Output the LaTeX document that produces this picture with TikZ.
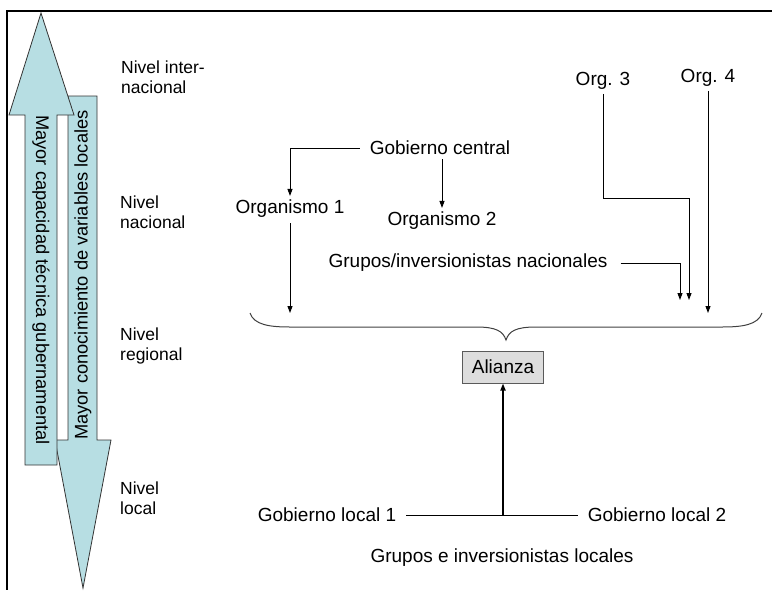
\documentclass[tikz,border=0pt]{standalone}
\usepackage{fontspec}
\setmainfont{Liberation Sans}
\usepackage{tikz}
\usetikzlibrary{arrows.meta,positioning,calc}
\usepackage{xcolor}
\definecolor{axisfill}{RGB}{183,222,227}
\definecolor{boxfill}{RGB}{221,221,221}
\definecolor{boxdraw}{RGB}{90,90,90}
\tikzset{
    actor/.style={inner sep=1pt, font=\fontsize{19}{22}\selectfont},
    lvl/.style={align=left, anchor=west, inner sep=0pt, font=\fontsize{17.5}{19.5}\selectfont},
    axis/.style={draw=black!80, fill=axisfill, line width=0.8pt},
    axislabel/.style={inner sep=0pt, font=\fontsize{18.3}{20}\selectfont},
    link/.style={line width=0.9pt, -{Triangle[length=7pt,width=5pt]}},
    plain/.style={line width=0.9pt},
    brace/.style={line width=1pt, black!75},
    alliance/.style={draw=boxdraw, fill=boxfill, line width=1pt, minimum width=81pt, minimum height=32pt, inner sep=0pt, font=\fontsize{19}{22}\selectfont},
}
\begin{document}
\begin{tikzpicture}[x=1pt, y=-1pt]
    \useasboundingbox (0,0) rectangle (772,590);
    % Frame
    \draw[line width=2.5pt] (772,11) -- (7,11) -- (7,590);
    % Vertical axes
    \draw[axis] (68,96) -- (97,96) -- (97,440) -- (111,440) -- (83,588) -- (55,440) -- (68,440) -- cycle;
    \draw[axis] (41,13) -- (74,115) -- (57,115) -- (57,465) -- (25,465) -- (25,115) -- (9,115) -- cycle;
    \node[axislabel, rotate=-90] (tec) at (41,280) {Mayor capacidad técnica gubernamental};
    \node[axislabel, rotate=90] (con) at (83,275) {Mayor conocimiento de variables locales};
    % Levels
    \node[lvl] (intl) at (121,77) {Nivel inter-\\nacional};
    \node[lvl] (nac) at (120,212) {Nivel\\nacional};
    \node[lvl] (reg) at (120,346) {Nivel\\regional};
    \node[lvl] (locl) at (120,498) {Nivel\\local};
    % Actors
    \node[actor] (gc) at (440,148) {Gobierno central};
    \node[actor] (o1) at (290,209) {Organismo 1};
    \node[actor] (o2) at (442,221) {Organismo 2};
    \node[actor] (gn) at (468,263) {Grupos/inversionistas nacionales};
    \node[actor] (o3) at (603,81) {Org. 3};
    \node[actor] (o4) at (708,78) {Org. 4};
    % Brace ends
    \coordinate (b1) at (290,313);
    \coordinate (b2) at (680,300);
    \coordinate (b3) at (689,300);
    \coordinate (b4) at (708,313);
    \coordinate (k3) at (689,198);
    \draw[brace] (250,313) .. controls (254,325) and (270,327) .. (290,327) -- (476,327)
        .. controls (496,327) and (503,331) .. (506,340)
        .. controls (509,331) and (516,327) .. (536,327) -- (722,327)
        .. controls (742,327) and (758,325) .. (762,313);
    % Connectors
    \draw[link, shorten <=9pt, shorten >=3pt] (gc.west) -| (o1.north);
    \draw[link, shorten <=3pt, shorten >=3pt] (gc.south -| o2.north) -- (o2.north);
    \draw[link, shorten <=4pt] (o1.south) -- (b1);
    \draw[link, shorten <=12pt] (gn.east) -| (b2);
    \draw[link, shorten <=3pt] (o3.south) |- (k3) -- (b3);
    \draw[link, shorten <=3pt] (o4.south) -- (b4);
    % Alliance
    \node[alliance] (ali) at (503,367) {Alianza};
    \node[actor] (gl1) at (327,515) {Gobierno local 1};
    \node[actor] (gl2) at (657,515) {Gobierno local 2};
    \node[actor] (gil) at (502,558) {Grupos e inversionistas locales};
    \coordinate (j) at (ali.south |- gl1.east);
    \draw[plain, shorten <=9pt, shorten >=9pt] (gl1.east) -- (gl2.west);
    \draw[link, line width=1.6pt] (j) -- (ali.south);
\end{tikzpicture}
\end{document}
